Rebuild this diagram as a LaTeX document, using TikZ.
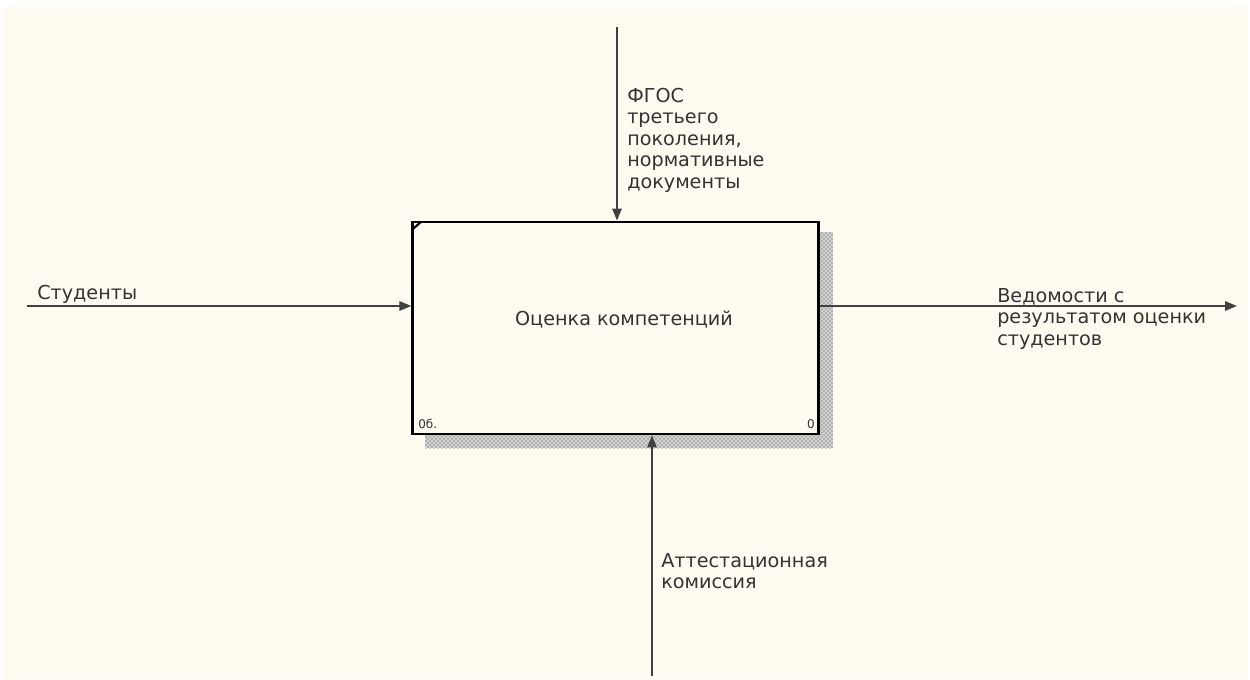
\documentclass[tikz,border=0pt]{standalone}
\usepackage{fontspec}
\setmainfont{DejaVu Sans}
\usetikzlibrary{arrows.meta,patterns}
\definecolor{paper}{HTML}{FFFBF0}
\definecolor{ink}{HTML}{333333}
\definecolor{wire}{HTML}{404040}
\tikzset{
  flow/.style={draw=wire, line width=1.5pt, -{Triangle[length=9pt,width=7pt]}},
  funcbox/.style={draw=black, line width=2.2pt, fill=paper, rectangle,
                  minimum width=304pt, minimum height=159pt, inner sep=0pt},
  arrowlabel/.style={text=ink, font=\fontsize{14.4}{16.1}\selectfont,
                     align=left, inner sep=0pt, anchor=north west},
  tag/.style={text=ink, font=\fontsize{9}{10}\selectfont, inner sep=0pt}
}
\begin{document}
\begin{tikzpicture}[x=0.75pt, y=-0.75pt]
  % page and drawing sheet
  \useasboundingbox (0,0) rectangle (1250,679);
  \fill[white] (0,0) rectangle (1250,679);
  \fill[paper] (3,7) rectangle (1247,679);

  % hatched shadow of the activity box
  \fill[gray!35] (425,232) rectangle (833,448);
  \fill[pattern=crosshatch dots, pattern color=black!75] (425,232) rectangle (833,448);

  % activity box
  \node[funcbox] (A0) at (615.5,328) {};
  \node[text=ink, font=\fontsize{14.4}{16.1}\selectfont, inner sep=0pt] (title) at (624,320) {Оценка компетенций};
  \draw[line width=1.6pt] ([shift={(1,9)}]A0.north west) coordinate (c1) -- ([shift={(10,1)}]A0.north west) coordinate (c2);
  \node[tag, anchor=west] (node) at (418,424) {0б.};
  \node[tag, anchor=east] (num) at (815,424) {0};

  % free ends of the arrows
  \coordinate (inS) at (27,306);
  \coordinate (outE) at (1237,306);
  \coordinate (ctlN) at (617,27);
  \coordinate (mechS) at (652,676);

  % input, output, control and mechanism
  \draw[flow] (inS) -- (inS -| A0.west);
  \draw[flow] (A0.east |- outE) -- (outE);
  \draw[flow] (ctlN) -- (ctlN |- A0.north);
  \draw[flow] (mechS) -- (mechS |- A0.south);

  % arrow labels
  \node[arrowlabel] (lin) at (37,285) {Студенты};
  \node[arrowlabel] (lout) at (997,288) {Ведомости с\\результатом оценки\\студентов};
  \node[arrowlabel] (lctl) at (627,88) {ФГОС\\третьего\\поколения,\\нормативные\\документы};
  \node[arrowlabel] (lmech) at (661,553) {Аттестационная\\комиссия};
\end{tikzpicture}
\end{document}
